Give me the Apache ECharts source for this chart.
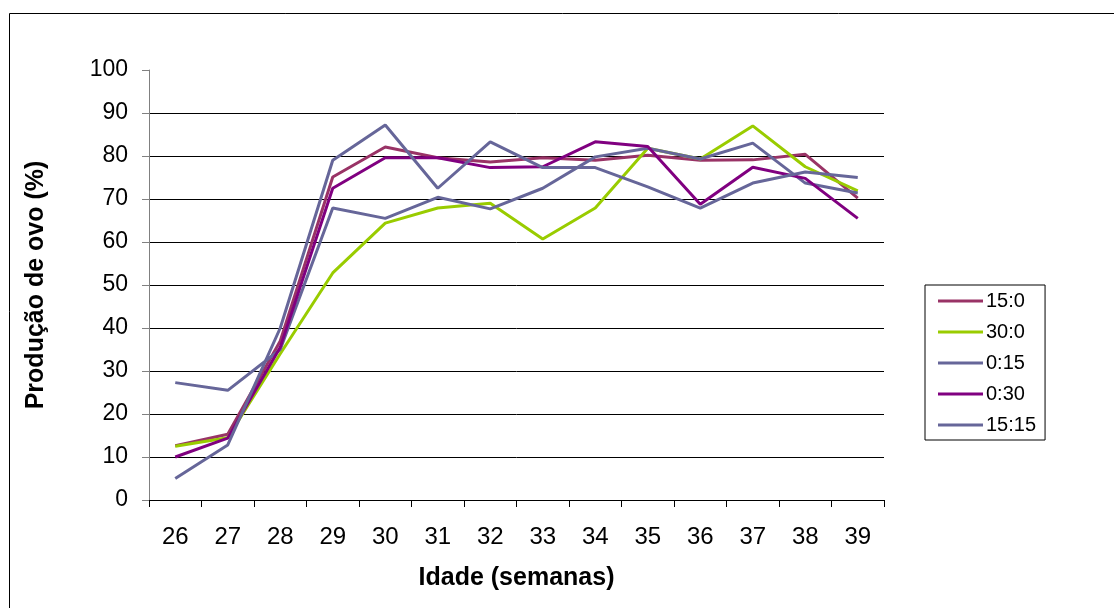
<!DOCTYPE html>
<html>
<head>
<meta charset="utf-8">
<script src="https://cdn.jsdelivr.net/npm/echarts@6/dist/echarts.min.js"></script>
<style>
  html, body { margin: 0; padding: 0; background: #fff; }
  #chart { width: 1114px; height: 608px; }
</style>
</head>
<body>
<div id="chart"></div>
<script>
// idade em semanas
var semanas = ['26', '27', '28', '29', '30', '31', '32', '33', '34', '35', '36', '37', '38', '39'];

// producao de ovo (%) por tratamento
var s15_0  = [12.6, 15.3, 37, 75.1, 82.1, 79.6, 78.6, 79.6, 79, 80.2, 79, 79.1, 80.4, 70.2];
var s30_0  = [12.5, 14.5, 34, 52.8, 64.4, 67.9, 69, 60.7, 67.9, 81.8, 79.3, 87, 77.5, 71.9];
var s0_15  = [27.3, 25.5, 35, 67.9, 65.5, 70.4, 67.7, 72.5, 79.8, 81.8, 79.3, 83, 73.7, 71.4];
var s0_30  = [10, 14.4, 35.5, 72.5, 79.6, 79.6, 77.3, 77.5, 83.3, 82.2, 68.8, 77.4, 74.8, 65.5];
var s15_15 = [5, 12.8, 40, 79, 87.2, 72.5, 83.3, 77.3, 77.3, 72.8, 67.9, 73.7, 76.3, 75];

var nomes = ['15:0', '30:0', '0:15', '0:30', '15:15'];
var cores = ['#993366', '#99cc00', '#666699', '#800080', '#666699'];
var dados = [s15_0, s30_0, s0_15, s0_30, s15_15];

var fonte = '"Liberation Sans", Arial, sans-serif';

var chart = echarts.init(document.getElementById('chart'));

var series = [];
for (var i = 0; i < nomes.length; i++) {
    series.push({
        name: nomes[i],
        type: 'line',
        data: dados[i],
        symbol: 'none',
        color: cores[i],
        lineStyle: { width: 3, color: cores[i] },
        animation: false
    });
}

// linhas de grade pretas, sem a linha do 100
var gradeCores = [];
for (var k = 0; k < 10; k++) gradeCores.push('#000');
gradeCores.push('rgba(0,0,0,0)');

var option = {
    backgroundColor: '#fff',
    animation: false,
    textStyle: { fontFamily: fonte },
    grid: {
        left: 149,
        top: 70,
        width: 735,
        height: 430,
        containLabel: false
    },
    graphic: [{
        type: 'rect',
        left: 7,
        top: 11,
        shape: { width: 1120, height: 620 },
        style: { fill: 'none', stroke: '#000', lineWidth: 1 },
        silent: true
    }],
    legend: {
        orient: 'vertical',
        left: 925,
        top: 285,
        padding: [6, 9, 5, 13],
        itemGap: 11,
        itemWidth: 45,
        itemHeight: 3,
        icon: 'rect',
        borderColor: '#000',
        borderWidth: 1,
        data: nomes,
        textStyle: { fontFamily: fonte, fontSize: 20, color: '#000', padding: [0, 0, 0, -2] }
    },
    xAxis: {
        type: 'category',
        data: semanas,
        boundaryGap: true,
        name: 'Idade (semanas)',
        nameLocation: 'middle',
        nameGap: 66,
        nameTextStyle: { fontFamily: fonte, fontSize: 25, fontWeight: 'bold', color: '#000' },
        axisLine: { lineStyle: { color: '#000', width: 1 } },
        axisTick: { show: true, length: 7, interval: 0, lineStyle: { color: '#000' } },
        axisLabel: { fontFamily: fonte, fontSize: 24, color: '#000', margin: 25, interval: 0 },
        splitLine: { show: false }
    },
    yAxis: {
        type: 'value',
        min: 0,
        max: 100,
        interval: 10,
        name: 'Produção de ovo (%)',
        nameLocation: 'middle',
        nameGap: 100,
        nameRotate: 90,
        nameTextStyle: { fontFamily: fonte, fontSize: 25, fontWeight: 'bold', color: '#000' },
        axisLine: { show: true, lineStyle: { color: '#808080', width: 1 } },
        axisTick: { show: true, length: 7, inside: false, lineStyle: { color: '#808080' } },
        axisLabel: { fontFamily: fonte, fontSize: 23, color: '#000', margin: 21 },
        splitLine: { show: true, lineStyle: { color: gradeCores, width: 1 } }
    },
    series: series
};

chart.setOption(option);
</script>
</body>
</html>
